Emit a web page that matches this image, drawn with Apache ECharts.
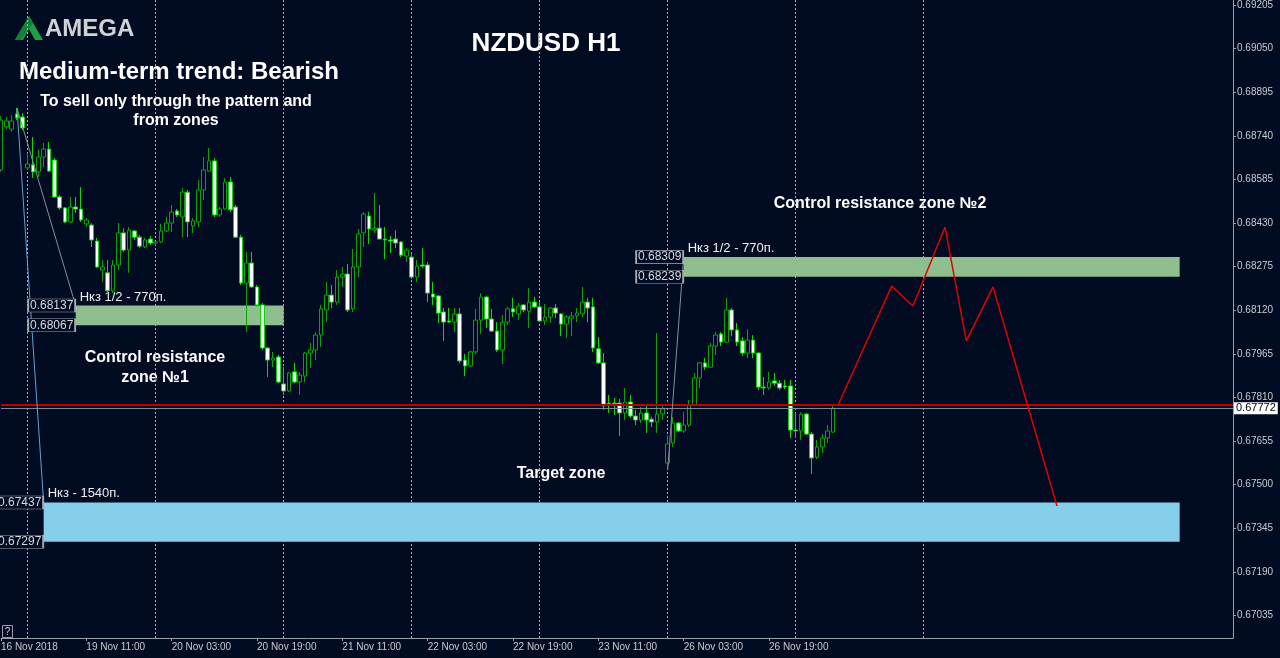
<!DOCTYPE html>
<html><head><meta charset="utf-8">
<script src="https://cdn.jsdelivr.net/npm/echarts@6/dist/echarts.min.js"></script>
<style>html,body{margin:0;padding:0;background:#010b22;}#c{width:1280px;height:658px;}</style>
</head><body><div id="c"></div>
<script>
// ---- data ----
const xTickLabels = ['16 Nov 2018','19 Nov 11:00','20 Nov 03:00','20 Nov 19:00','21 Nov 11:00','22 Nov 03:00','22 Nov 19:00','23 Nov 11:00','26 Nov 03:00','26 Nov 19:00'];
const labelEvery = 16;
const dayStarts = [5,29,53,77,101,125,149,173];
const categoryCount = 232;
const priceTicks = [0.67035,0.67190,0.67345,0.67500,0.67655,0.67810,0.67965,0.68120,0.68275,0.68430,0.68585,0.68740,0.68895,0.69050,0.69205];
// [open, close, low, high]
const candles = [
[.68619,.68796,.68612,.68811],[.68772,.68793,.68764,.68807],[.68764,.68793,.68754,.68814],[.68818,.68804,.68796,.68839],
[.68807,.68768,.68761,.68821],[.68626,.68640,.68619,.68679],[.68637,.68612,.68590,.68736],[.68612,.68665,.68594,.68690],
[.68665,.68693,.68629,.68715],[.68693,.68615,.68612,.68718],[.68654,.68523,.68519,.68661],[.68523,.68484,.68477,.68530],
[.68484,.68434,.68430,.68487],[.68434,.68487,.68430,.68523],[.68487,.68480,.68466,.68523],[.68480,.68441,.68434,.68558],
[.68427,.68441,.68416,.68448],[.68423,.68370,.68345,.68430],[.68366,.68274,.68270,.68377],[.68263,.68274,.68221,.68299],
[.68253,.68189,.68181,.68299],[.68189,.68281,.68181,.68299],[.68281,.68395,.68263,.68430],[.68395,.68334,.68327,.68412],
[.68334,.68405,.68253,.68416],[.68402,.68380,.68370,.68405],[.68380,.68348,.68341,.68388],[.68345,.68370,.68341,.68377],
[.68373,.68359,.68352,.68384],[.68359,.68363,.68352,.68366],[.68363,.68402,.68359,.68427],[.68402,.68430,.68398,.68452],
[.68430,.68469,.68398,.68494],[.68473,.68459,.68452,.68480],[.68452,.68540,.68380,.68555],[.68540,.68434,.68380,.68548],
[.68420,.68438,.68395,.68448],[.68434,.68548,.68416,.68583],[.68548,.68619,.68512,.68665],[.68615,.68651,.68612,.68697],
[.68651,.68459,.68452,.68661],[.68459,.68480,.68452,.68487],[.68480,.68576,.68477,.68590],[.68576,.68477,.68469,.68594],
[.68487,.68380,.68377,.68494],[.68380,.68217,.68210,.68388],[.68217,.68288,.68043,.68327],[.68288,.68203,.68199,.68327],
[.68203,.68139,.68132,.68210],[.68139,.67986,.67979,.68146],[.67986,.67943,.67883,.67990],[.67943,.67950,.67918,.67972],
[.67954,.67865,.67861,.67961],[.67858,.67833,.67819,.67918],[.67833,.67897,.67829,.67901],[.67901,.67865,.67861,.67933],
[.67865,.67890,.67819,.67901],[.67886,.67968,.67865,.67972],[.67968,.67979,.67915,.68004],[.67979,.68032,.67943,.68043],
[.68032,.68125,.67990,.68139],[.68121,.68174,.68078,.68221],[.68174,.68149,.68128,.68210],[.68149,.68238,.68139,.68263],
[.68238,.68249,.68203,.68274],[.68249,.68121,.68114,.68285],[.68125,.68274,.68114,.68338],[.68274,.68391,.68238,.68409],
[.68395,.68462,.68345,.68469],[.68455,.68409,.68356,.68469],[.68405,.68412,.68395,.68537],[.68412,.68373,.68373,.68494],
[.68373,.68370,.68302,.68416],[.68370,.68366,.68324,.68384],[.68373,.68359,.68341,.68405],[.68363,.68316,.68309,.68366],
[.68313,.68334,.68292,.68341],[.68309,.68238,.68231,.68324],[.68238,.68277,.68221,.68299],[.68281,.68277,.68270,.68341],
[.68281,.68181,.68149,.68292],[.68178,.68167,.68139,.68221],[.68171,.68110,.68075,.68174],[.68114,.68078,.68011,.68128],
[.68082,.68078,.68075,.68128],[.68078,.68107,.68043,.68128],[.68107,.67940,.67933,.68128],[.67943,.67922,.67886,.67965],
[.67922,.67972,.67918,.67976],[.67972,.68085,.67965,.68125],[.68085,.68167,.68036,.68181],[.68167,.68089,.68057,.68170],
[.68089,.68046,.68043,.68125],[.68046,.67979,.67972,.68078],[.67979,.68078,.67929,.68103],[.68078,.68125,.68068,.68132],
[.68125,.68114,.68096,.68164],[.68107,.68135,.68085,.68146],[.68139,.68121,.68114,.68142],[.68117,.68149,.68057,.68199],
[.68149,.68132,.68128,.68167],[.68132,.68082,.68078,.68149],[.68082,.68096,.68068,.68142],[.68096,.68128,.68075,.68132],
[.68128,.68110,.68092,.68142],[.68107,.68071,.68028,.68110],[.68071,.68096,.68021,.68103],[.68092,.68100,.68028,.68114],
[.68100,.68110,.68078,.68128],[.68107,.68149,.68096,.68203],[.68149,.68128,.68078,.68164],[.68132,.67986,.67972,.68164],
[.67983,.67933,.67929,.68025],[.67933,.67780,.67766,.67968],[.67790,.67787,.67755,.67819],[.67790,.67787,.67748,.67808],
[.67790,.67755,.67673,.67805],[.67755,.67794,.67730,.67844],[.67794,.67744,.67737,.67819],[.67744,.67730,.67712,.67766],
[.67730,.67755,.67719,.67776],[.67755,.67730,.67684,.67783],[.67733,.67723,.67705,.67741],[.67723,.67751,.67684,.68039],
[.67751,.67769,.67730,.67783],[.67577,.67645,.67552,.67676],[.67648,.67719,.67634,.67741],[.67719,.67691,.67687,.67723],
[.67691,.67712,.67684,.67758],[.67712,.67783,.67705,.67801],[.67783,.67879,.67780,.67897],[.67879,.67933,.67844,.67936],
[.67933,.67918,.67908,.67950],[.67918,.67993,.67915,.68004],[.67993,.68032,.67961,.68043],[.68036,.68007,.67993,.68043],
[.68007,.68121,.68004,.68164],[.68121,.68050,.68028,.68128],[.68050,.68007,.67993,.68075],[.68011,.67968,.67958,.68025],
[.67968,.68014,.67950,.68053],[.68014,.67968,.67950,.68032],[.67968,.67847,.67837,.67972],[.67847,.67844,.67819,.67883],
[.67844,.67865,.67837,.67901],[.67869,.67861,.67851,.67897],[.67861,.67844,.67837,.67872],[.67851,.67847,.67840,.67872],
[.67851,.67694,.67666,.67872],[.67694,.67691,.67666,.67755],[.67691,.67751,.67659,.67758],[.67751,.67680,.67676,.67755],
[.67680,.67595,.67538,.67687],[.67598,.67634,.67591,.67659],[.67634,.67666,.67613,.67680],[.67666,.67691,.67648,.67712],
[.67687,.67772,.67684,.67780]
];
const projection = [[157,0.67785],[167,0.68206],[171,0.68135],[177,0.68416],[181,0.68011],[186,0.68203],[198,0.67424]];
const zone1 = {from:14, to:53, low:0.68067, high:0.68137, label:'Нкз 1/2 - 770п.'};
const zone2 = {from:128, to:221, low:0.68239, high:0.68309, label:'Нкз 1/2 - 770п.'};
const target = {from:8, to:221, low:0.67297, high:0.67437, label:'Нкз - 1540п.'};
const bidPrice = 0.67785, lastPrice = 0.67772;
const trendLines = [
  {from:[3,0.68839], to:[14,0.68137], color:'#8a9099'},
  {from:[3,0.68839], to:[8,0.67437], color:'#6a9fd0'},
  {from:[125,0.67552], to:[128,0.68309], color:'#8a9099'}
];

// ---- build ----
const categories = Array.from({length:categoryCount}, (_, i) => 'b' + i);
const BG = '#010b22';
const FONT = '"Liberation Sans", Arial, sans-serif';
function zoneArea(z, color){
  return [{name:z.label, coord:[z.from, z.high], itemStyle:{color:color}}, {coord:[z.to, z.low]}];
}
function boxes(z){
  return [z.high, z.low].map(v => ({coord:[z.from, v], value:v.toFixed(5)}));
}
const chart = echarts.init(document.getElementById('c'), null, {renderer:'canvas'});
const option = {
  backgroundColor: BG,
  animation: false,
  grid: {left:1, right:47, top:0, bottom:20, outerBoundsMode:'none', containLabel:false},
  xAxis: {
    type:'category', data:categories, boundaryGap:false,
    axisLine:{show:true, lineStyle:{color:'#9aa0a8', width:1}},
    axisTick:{show:true, length:3, interval:(i)=> i % labelEvery === 0 && i/labelEvery < xTickLabels.length, lineStyle:{color:'#9aa0a8'}},
    axisLabel:{show:true, interval:(i)=> i % labelEvery === 0 && i/labelEvery < xTickLabels.length,
      formatter:(v, i)=> xTickLabels[i/labelEvery] || '', align:'left', color:'#c8ccd2', fontSize:10, fontFamily:FONT, margin:4},
    splitLine:{show:true, interval:(i)=> dayStarts.indexOf(i) >= 0, lineStyle:{color:'#a8aeb6', type:[2,2], width:1}}
  },
  yAxis: {
    type:'value', position:'right', min:0.66955, max:0.69223, scale:true,
    axisLine:{show:true, lineStyle:{color:'#9aa0a8', width:1}},
    axisTick:{show:true, length:3, customValues:priceTicks, lineStyle:{color:'#9aa0a8'}},
    axisLabel:{show:true, customValues:priceTicks, formatter:(v)=> Number(v).toFixed(5), color:'#c8ccd2', fontSize:10, fontFamily:FONT, margin:4},
    splitLine:{show:false}
  },
  series: [
    {
      type:'candlestick', data:candles, barWidth:4, z:3,
      itemStyle:{color:BG, color0:'#ffffff', borderColor:'#00a800', borderColor0:'#00e000', borderWidth:1},
      markArea:{
        silent:true, z:1,
        label:{show:true, position:[4,-15], color:'#f0f0f0', fontSize:13, fontFamily:FONT},
        data:[zoneArea(zone1,'#8fbf8f'), zoneArea(zone2,'#8fbf8f'), zoneArea(target,'#87ceeb')]
      },
      markPoint:{
        silent:true, z:6, symbol:'rect', symbolSize:[47,13], symbolOffset:[-24,0],
        itemStyle:{color:BG, borderColor:'#a6acb4', borderWidth:1},
        label:{show:true, position:'inside', color:'#d6d9dd', fontSize:12, fontFamily:FONT, formatter:(p)=>p.value},
        data:[].concat(boxes(zone1), boxes(zone2), boxes(target))
      }
    },
    {
      type:'line', data:projection, symbol:'none', z:5,
      lineStyle:{color:'#e00000', width:1.5},
      markLine:{
        silent:true, symbol:['none','none'], z:4, precision:6,
        label:{show:false},
        data:[
          {yAxis:bidPrice, lineStyle:{color:'#c00000', width:2, type:'solid'}},
          {yAxis:lastPrice, lineStyle:{color:'#7f8a99', width:1, type:'solid'},
            label:{show:true, position:'end', distance:1, formatter:lastPrice.toFixed(5), backgroundColor:'#ffffff', color:'#000000', fontSize:11, fontFamily:FONT, padding:[1,2,0,2]}}
        ].concat(trendLines.map(t => [{coord:t.from, lineStyle:{color:t.color, width:1, type:'solid'}}, {coord:t.to}]))
      }
    }
  ],
  graphic: [
    {type:'polygon', shape:{points:[[15,40],[29,16],[43,40],[35,40],[29,29],[23,40]]}, style:{fill:'#1e9e46'}},
    {type:'polygon', shape:{points:[[15,40],[29,16],[33,23],[21,40]]}, style:{fill:'#12823a'}},
    {type:'text', style:{text:'AMEGA', x:45, y:29, fill:'#cfd3d8', font:'bold 24px '+FONT, textVerticalAlign:'middle'}},
    {type:'text', style:{text:'Medium-term trend: Bearish', x:179, y:72, fill:'#ffffff', font:'bold 24px '+FONT, textAlign:'center', textVerticalAlign:'middle'}},
    {type:'text', style:{text:'To sell only through the pattern and\nfrom zones', x:176, y:111, fill:'#ffffff', font:'bold 16px '+FONT, lineHeight:19, textAlign:'center', textVerticalAlign:'middle'}},
    {type:'text', style:{text:'NZDUSD H1', x:546, y:44, fill:'#ffffff', font:'bold 26px '+FONT, textAlign:'center', textVerticalAlign:'middle'}},
    {type:'text', style:{text:'Control resistance\nzone №1', x:155, y:368, fill:'#ffffff', font:'bold 16px '+FONT, lineHeight:20, textAlign:'center', textVerticalAlign:'middle'}},
    {type:'text', style:{text:'Control resistance zone №2', x:880, y:204, fill:'#ffffff', font:'bold 16px '+FONT, textAlign:'center', textVerticalAlign:'middle'}},
    {type:'text', style:{text:'Target zone', x:561, y:474, fill:'#ffffff', font:'bold 16px '+FONT, textAlign:'center', textVerticalAlign:'middle'}},
    {type:'rect', shape:{x:2.5, y:625.5, width:10, height:12}, style:{fill:BG, stroke:'#9aa0a8', lineWidth:1}},
    {type:'text', style:{text:'?', x:7.5, y:632, fill:'#d0d4d8', font:'10px '+FONT, textAlign:'center', textVerticalAlign:'middle'}}
  ]
};
chart.setOption(option);
</script>
</body></html>
